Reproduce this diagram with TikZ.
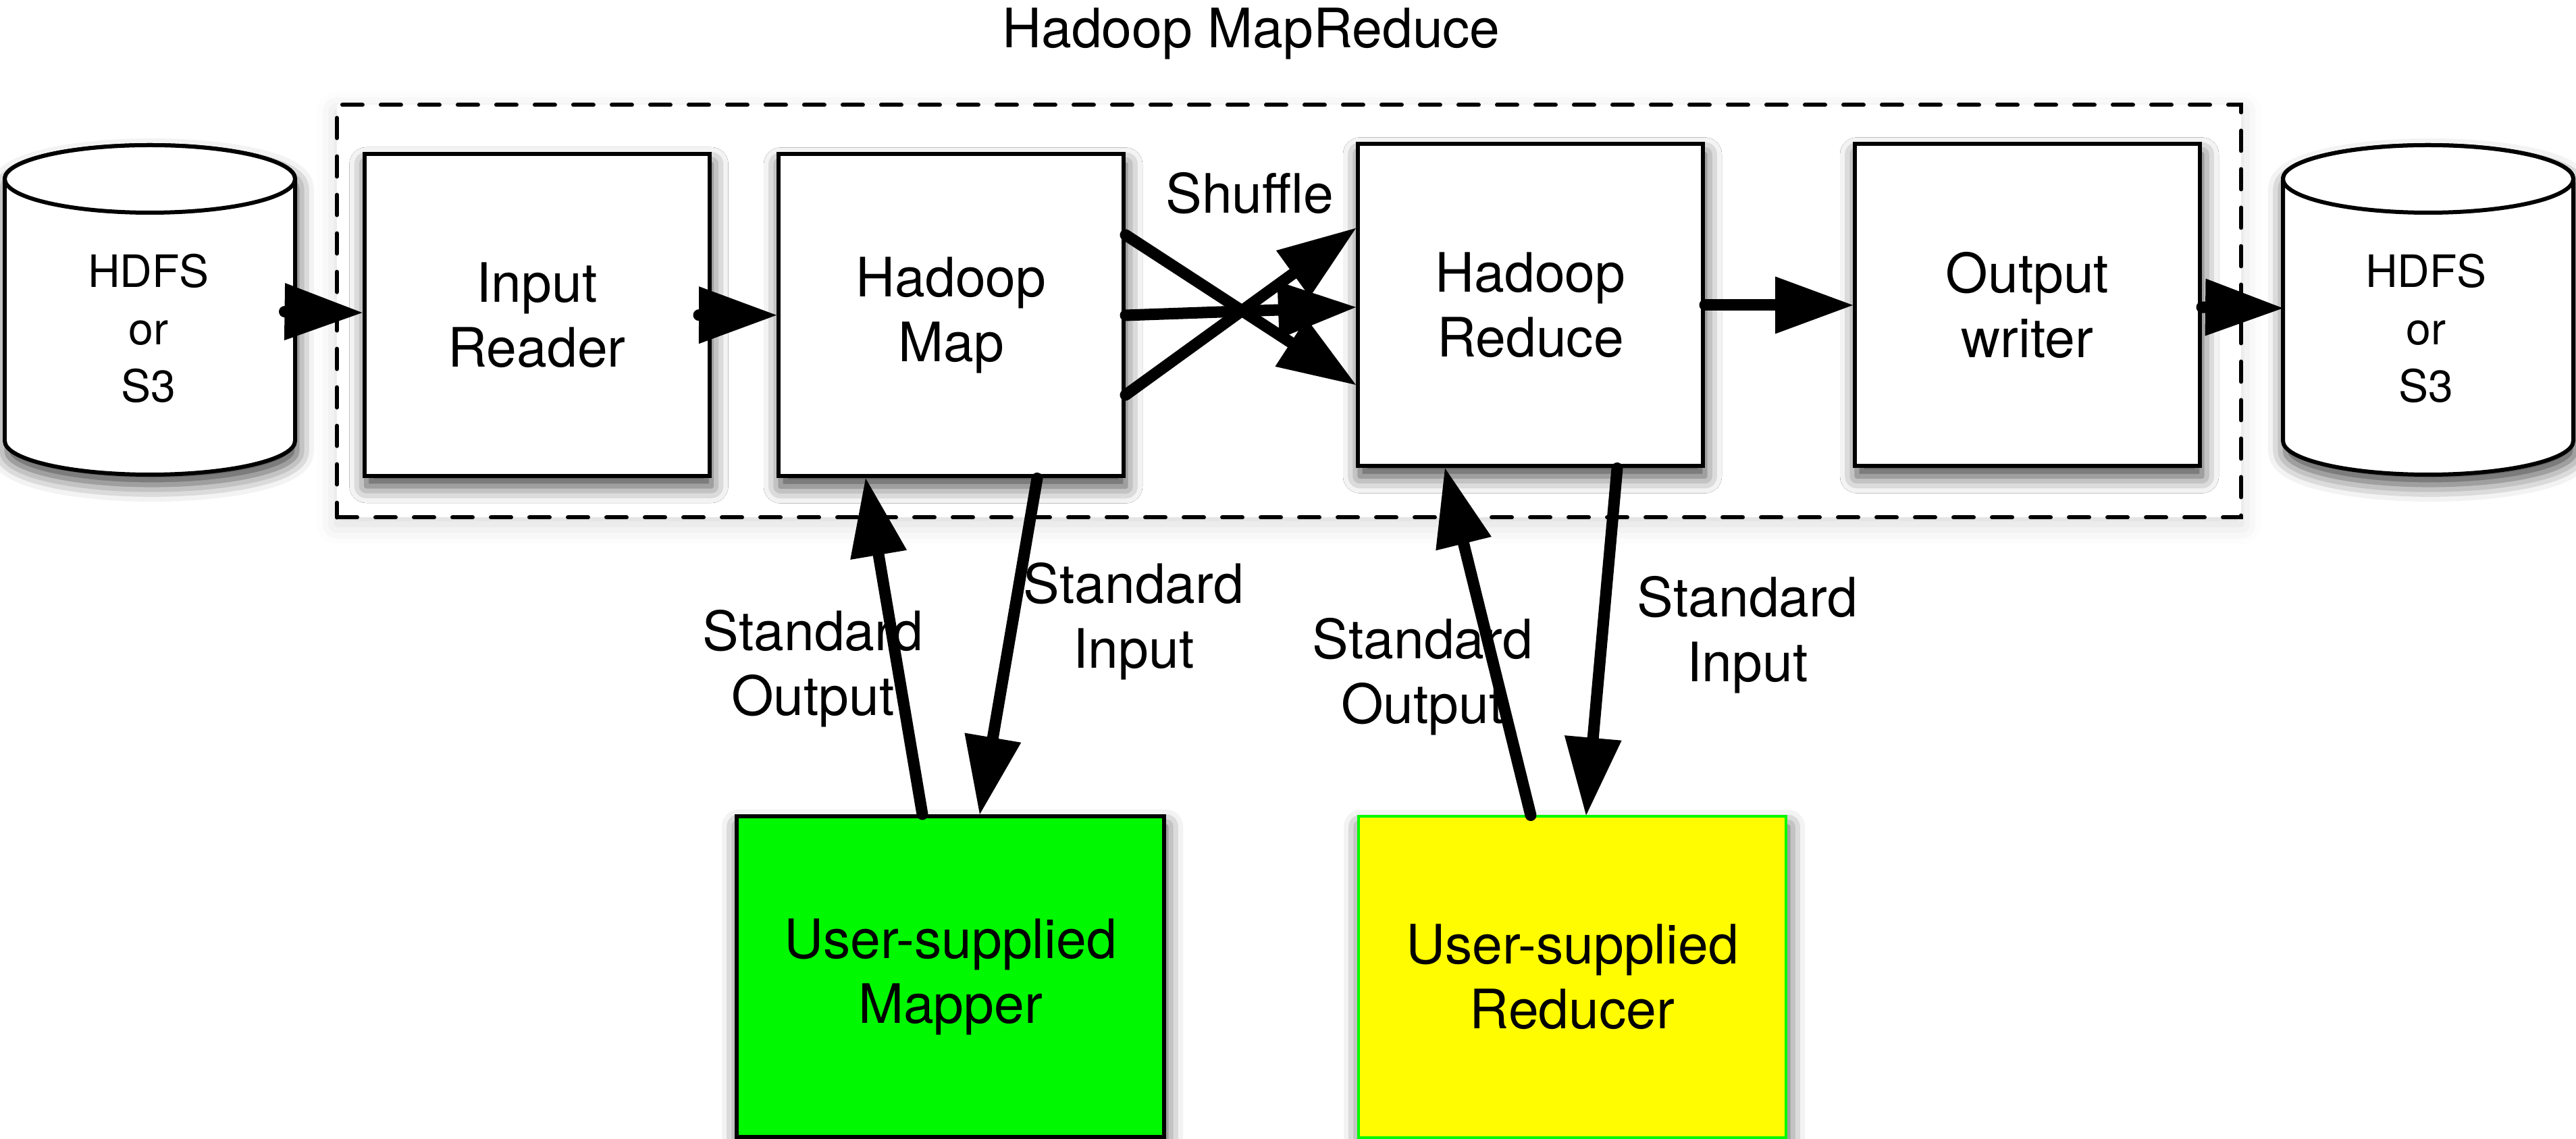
\documentclass[tikz,border=0pt]{standalone}
\usepackage{fontspec}
\setmainfont{TeX Gyre Heros}
\usetikzlibrary{arrows.meta,shadows.blur}
\definecolor{mappergreen}{RGB}{0,248,0}
\definecolor{reduceryellow}{RGB}{255,251,0}

\begin{document}
\begin{tikzpicture}[
    every node/.style={font=\fontsize{22.9}{27.3}\selectfont, align=center},
    dropshade/.style={blur shadow={shadow xshift=0.03cm, shadow yshift=-0.15cm, shadow blur radius=0.25cm, shadow opacity=75}},
    stage/.style={draw, line width=0.06cm, fill=white, minimum width=5.11cm, minimum height=4.77cm, inner sep=0pt, dropshade},
    userbox/.style={draw, line width=0.06cm, minimum width=6.33cm, minimum height=4.75cm, inner sep=0pt, dropshade},
    store/.style={minimum width=4.30cm, minimum height=4.88cm, inner sep=0pt, outer sep=0pt},
    storetext/.style={font=\fontsize{18.8}{24.3}\selectfont},
    drum/.style={draw, line width=0.06cm, fill=white},
    flow/.style={line width=0.17cm, line cap=round,
        -{Triangle[length=1.15cm, width=0.85cm, line width=0pt, fill=black, color=black]}}
]
    \useasboundingbox (0,0) rectangle (38.15,-16.87);

% the MapReduce frame
    \node[draw, dash pattern=on 0.30cm off 0.27cm, line cap=round, line width=0.06cm, fill=white,
          minimum width=28.20cm, minimum height=6.11cm,
          blur shadow={shadow xshift=0cm, shadow yshift=-0.1cm, shadow blur radius=0.3cm, shadow opacity=15}]
          (mrframe) at (19.09,-4.61) {};
    \node (title) at (18.53,-0.50) {Hadoop MapReduce};

% pipeline stages
    \node[stage] (inreader) at (7.95,-4.665) {Input\\Reader};
    \node[stage] (hmap) at (14.085,-4.67) {Hadoop\\Map};
    \node[stage] (hreduce) at (22.665,-4.52) {Hadoop\\Reduce};
    \node[stage] (owriter) at (30.025,-4.52) {Output\\writer};

% storage on both ends
    \node[store] (srcdb) at (2.22,-4.59) {};
    \draw[drum, dropshade] ([yshift=-0.5cm]srcdb.north west) -- ([yshift=0.5cm]srcdb.south west)
        arc[start angle=180, end angle=360, x radius=2.15cm, y radius=0.5cm]
        -- ([yshift=-0.5cm]srcdb.north east)
        arc[start angle=0, end angle=180, x radius=2.15cm, y radius=0.5cm] -- cycle;
    \draw[drum] ([yshift=-0.5cm]srcdb.north) ellipse [x radius=2.15cm, y radius=0.5cm];
    \node[storetext] (srctext) at (2.20,-4.865) {HDFS\\or\\S3};

    \node[store] (dstdb) at (35.96,-4.59) {};
    \draw[drum, dropshade] ([yshift=-0.5cm]dstdb.north west) -- ([yshift=0.5cm]dstdb.south west)
        arc[start angle=180, end angle=360, x radius=2.15cm, y radius=0.5cm]
        -- ([yshift=-0.5cm]dstdb.north east)
        arc[start angle=0, end angle=180, x radius=2.15cm, y radius=0.5cm] -- cycle;
    \draw[drum] ([yshift=-0.5cm]dstdb.north) ellipse [x radius=2.15cm, y radius=0.5cm];
    \node[storetext] (dsttext) at (35.93,-4.865) {HDFS\\or\\S3};

% user code
    \node[userbox, fill=mappergreen] (mapper) at (14.075,-14.465) {User-supplied\\Mapper};
    \node[userbox, fill=reduceryellow, draw=mappergreen, line width=0.04cm] (reducer) at (23.285,-14.47) {User-supplied\\Reducer};

% labels
    \node (shuffle) at (18.51,-2.86) [fill=white, inner sep=0.1cm] {Shuffle};
    \node (mapout) at (12.04,-9.90) {Standard\\Output};
    \node (mapin) at (16.79,-9.20) {Standard\\Input};
    \node (redout) at (21.07,-10.02) {Standard\\Output};
    \node (redin) at (25.88,-9.40) {Standard\\Input};

% data flow
    \draw[flow] (srcdb) -- (inreader);
    \draw[flow] (inreader) -- (hmap);
    \draw[flow] ([yshift=1.19cm]hmap.east) -- ([yshift=-1.18cm]hreduce.west);
    \draw[flow] (hmap.east) -- ([yshift=-0.03cm]hreduce.west);
    \draw[flow] ([yshift=-1.18cm]hmap.east) -- ([yshift=1.14cm]hreduce.west);
    \draw[flow] (hreduce) -- (owriter);
    \draw[flow] (owriter) -- (dstdb);

    \draw[flow] ([xshift=-0.415cm]mapper.north) -- ([xshift=-1.265cm]hmap.south);
    \draw[flow] ([xshift=1.275cm]hmap.south) -- ([xshift=0.435cm]mapper.north);
    \draw[flow] ([xshift=-0.615cm]reducer.north) -- ([xshift=-1.265cm]hreduce.south);
    \draw[flow] ([xshift=1.285cm]hreduce.south) -- ([xshift=0.205cm]reducer.north);

\end{tikzpicture}
\end{document}
